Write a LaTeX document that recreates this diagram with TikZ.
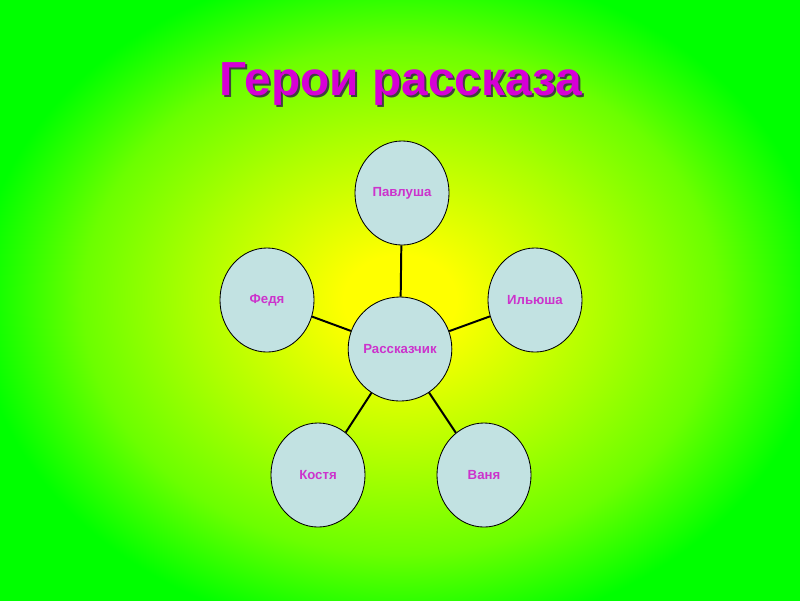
\documentclass[tikz,border=0pt]{standalone}
\usepackage{fontspec}
\setmainfont{Liberation Sans}
\usetikzlibrary{shapes.geometric}
\definecolor{bgyellow}{RGB}{255,255,0}
\definecolor{bggreen}{RGB}{0,255,0}
\definecolor{cellfill}{RGB}{194,226,226}
\definecolor{namepink}{RGB}{204,51,204}
\definecolor{titlepink}{RGB}{214,0,214}
\pgfdeclareradialshading{slidebg}{\pgfpoint{0bp}{0bp}}{%
  color(0bp)=(bgyellow);
  color(40bp)=(bgyellow);
  color(145bp)=(bgyellow!68!bggreen);
  color(225bp)=(bgyellow!42!bggreen);
  color(300bp)=(bggreen);
  color(420bp)=(bggreen)}
\begin{document}
\begin{tikzpicture}[x=0.025cm, y=-0.025cm,
  hero/.style={ellipse, draw=black, line width=0.6pt, fill=cellfill,
    minimum width=2.35cm, minimum height=2.6cm, inner sep=0pt,
    text=namepink, font=\fontsize{9.4}{11}\selectfont\bfseries},
  link/.style={line width=1.4pt}]
\useasboundingbox (0,0) rectangle (800,600);
% background
\fill[bggreen] (0,0) rectangle (800,600);
\begin{scope}
\clip (0,0) rectangle (800,600);
\node[inner sep=0pt, yscale=0.8, transform shape] (bg) at (400,300) {\pgfuseshading{slidebg}};
\end{scope}
% title
\node[anchor=base, text=black!75, font=\fontsize{34}{40}\selectfont\bfseries] (shadow) at (403,97) {Герои рассказа};
\node[anchor=base, text=titlepink, font=\fontsize{34}{40}\selectfont\bfseries] (title) at (401,95) {Герои рассказа};
% heroes
\node[hero] (rass) at (400,349) {Рассказчик};
\node[hero] (pavl) at (402,193) {Павлуша};
\node[hero] (fedya) at (267,300) {Федя};
\node[hero] (ilya) at (535,300) {Ильюша};
\node[hero] (kost) at (318,475) {Костя};
\node[hero] (vanya) at (484,475) {Ваня};
\draw[link] (rass) -- (pavl);
\draw[link] (rass) -- (fedya);
\draw[link] (rass) -- (ilya);
\draw[link] (rass) -- (kost);
\draw[link] (rass) -- (vanya);
\end{tikzpicture}
\end{document}
